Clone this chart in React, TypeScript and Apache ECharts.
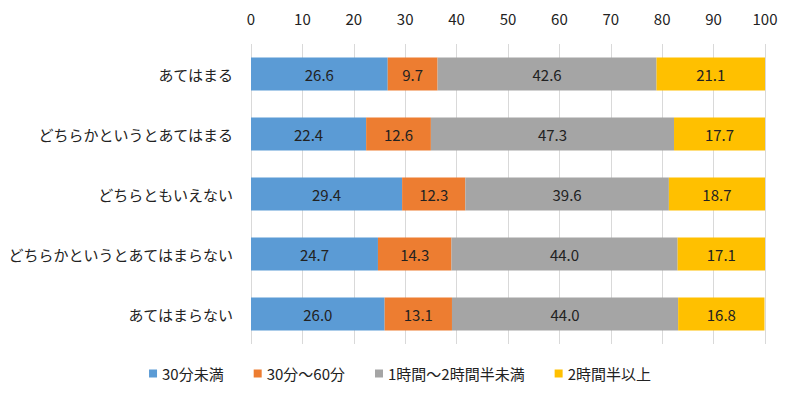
import React, { useEffect, useRef } from "react";
import * as echarts from "echarts";

const categories = [
  "あてはまる",
  "どちらかというとあてはまる",
  "どちらともいえない",
  "どちらかというとあてはまらない",
  "あてはまらない",
];
const seriesNames = ["30分未満", "30分～60分", "1時間～2時間半未満", "2時間半以上"];
const under30 = [26.6, 22.4, 29.4, 24.7, 26.0];
const from30to60 = [9.7, 12.6, 12.3, 14.3, 13.1];
const oneToTwoHalf = [42.6, 47.3, 39.6, 44.0, 44.0];
const overTwoHalf = [21.1, 17.7, 18.7, 17.1, 16.8];
const colors = ["#5B9BD5", "#ED7D31", "#A5A5A5", "#FFC000"];

const FONT = "'Noto Sans CJK JP', 'Noto Sans', sans-serif";

export default function App() {
  const ref = useRef<HTMLDivElement>(null);
  useEffect(() => {
    if (!ref.current) return;
    const chart = echarts.init(ref.current, undefined, { renderer: "svg" });
    const data = [under30, from30to60, oneToTwoHalf, overTwoHalf];
    chart.setOption({
      animation: false,
      textStyle: { fontFamily: FONT },
      grid: {
        left: 243,
        right: 27,
        top: 36,
        height: 300,
        containLabel: false,
        outerBoundsMode: "none",
      },
      legend: {
        bottom: 5,
        left: "center",
        itemWidth: 8,
        itemHeight: 8,
        itemGap: 30,
        icon: "rect",
        textStyle: { fontSize: 15, color: "#222", fontFamily: FONT },
        data: seriesNames,
      },
      xAxis: {
        type: "value",
        position: "top",
        min: 0,
        max: 100,
        interval: 10,
        axisLine: { show: false },
        axisTick: { show: false },
        axisLabel: { fontSize: 15, color: "#222", margin: 18, fontFamily: FONT },
        splitLine: { lineStyle: { color: "#d9d9d9", width: 1 } },
      },
      yAxis: {
        type: "category",
        data: categories,
        inverse: true,
        axisLine: { show: false },
        axisTick: { show: false },
        axisLabel: { fontSize: 15, color: "#222", margin: 18, fontFamily: FONT },
      },
      series: seriesNames.map((name, i) => ({
        name,
        type: "bar",
        stack: "total",
        barWidth: "55%",
        itemStyle: { color: colors[i] },
        label: {
          show: true,
          position: "inside",
          color: "#222",
          fontSize: 15,
          fontFamily: FONT,
          formatter: (p: any) => Number(p.value).toFixed(1),
        },
        data: data[i],
      })),
    });
    return () => chart.dispose();
  }, []);
  return <div ref={ref} style={{ width: 784, height: 383 }} />;
}
